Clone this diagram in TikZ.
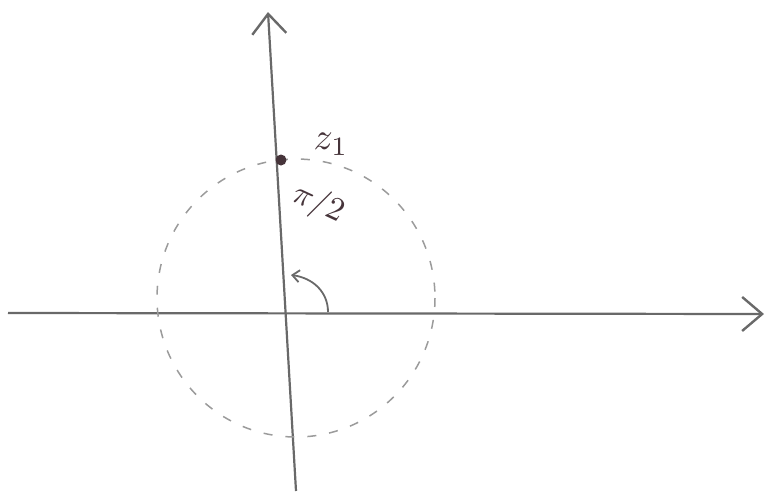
\documentclass[tikz,border=0pt]{standalone}
\usepackage{graphicx}
\usepackage{tikz}
\usetikzlibrary{arrows.meta}

\definecolor{pencil}{RGB}{105,105,105}
\definecolor{lightpencil}{RGB}{155,155,155}
\definecolor{inkdark}{RGB}{70,52,58}

\newcommand{\bigtxt}[2][3.5]{\scalebox{#1}{#2}}

\begin{document}
\begin{tikzpicture}[
  x=1pt, y=-1pt,
  axis/.style={draw=pencil, line width=2.2pt,
               -{Straight Barb[length=20pt, width=34pt, line width=2.4pt]}},
  guide/.style={draw=lightpencil, line width=1.5pt, dash pattern=on 9pt off 13pt},
  turn/.style={draw=pencil, line width=1.8pt, -{Straight Barb[length=7pt, width=12pt]}},
  lbl/.style={text=inkdark, inner sep=0pt}
]
\useasboundingbox (0,0) rectangle (772,491);
% axes
\coordinate (xl) at (8,313);
\coordinate (xr) at (764,314);
\coordinate (yb) at (296,491);
\coordinate (yt) at (268,12);
\draw[axis] (xl) -- (xr);
\draw[axis] (yb) -- (yt);
% dashed circle
\coordinate (c) at (296,298);
\draw[guide] (c) circle[radius=139];
% point z1 and the quarter turn
\node[circle, fill=inkdark, inner sep=0pt, minimum size=11pt] (z1) at (281,160) {};
\node[lbl] (z1lbl) at (331,144) {\bigtxt[3.8]{$z_1$}};
\node[lbl, rotate=-25] (ang) at (318,204) {\bigtxt[3.3]{$\pi/2$}};
\coordinate (a0) at (328,312);
\coordinate (a1) at (291,275);
\draw[turn] (a0) .. controls (328,292) and (313,278) .. (a1);
\end{tikzpicture}
\end{document}
